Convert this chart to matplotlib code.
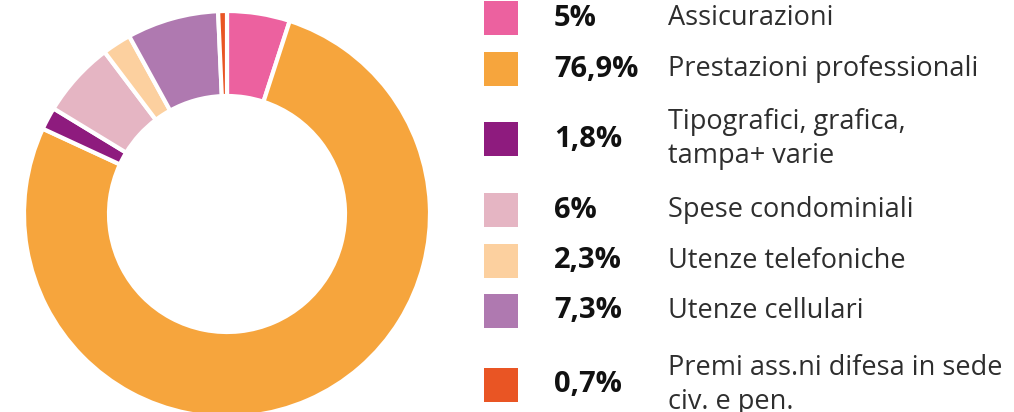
import matplotlib
matplotlib.use("Agg")
import matplotlib.pyplot as plt
from matplotlib.patches import Rectangle

# ---------------------------------- DATA ----------------------------------- #
labels = ['Assicurazioni', 'Prestazioni professionali',
          'Tipografici, grafica,\ntampa+ varie', 'Spese condominiali',
          'Utenze telefoniche', 'Utenze cellulari',
          'Premi ass.ni difesa in sede\nciv. e pen.']
values = [5.0, 76.9, 1.8, 6.0, 2.3, 7.3, 0.7]
pct_text = ['5%', '76,9%', '1,8%', '6%', '2,3%', '7,3%', '0,7%']
colors = ['#EC619F', '#F6A53D', '#8E1B7E', '#E5B5C3',
          '#FCD09F', '#AF79B0', '#E95524']

# --------------------------------- LAYOUT ---------------------------------- #
W, H = 1014, 412
row_y = [18, 69, 139, 210, 261, 311, 385]  # legend row centres, px from top

fig = plt.figure(figsize=(W / 100, H / 100), dpi=100)
ax = fig.add_axes([0, 0, 1, 1])

# donut, centre given in pixel coords (y measured from bottom)
ax.pie(values, colors=colors, startangle=90, counterclock=False,
       center=(227, H - 214), radius=203,
       wedgeprops=dict(width=85, edgecolor='white', linewidth=3))

ax.set_xlim(0, W)
ax.set_ylim(0, H)
ax.set_aspect('auto')
ax.axis('off')

font = 'Open Sans'
for i in range(len(values)):
    y = H - row_y[i]
    ax.add_patch(Rectangle((484, y - 17), 34, 34, color=colors[i], lw=0))
    ax.text(554, y, pct_text[i], fontsize=21, fontweight='bold',
            family=font, color='#111111', va='center', ha='left')
    ax.text(668, y, labels[i], fontsize=19.5, family=font, color='#2e2e2e',
            va='center', ha='left', linespacing=1.3)

fig.savefig('out.png', dpi=100)
